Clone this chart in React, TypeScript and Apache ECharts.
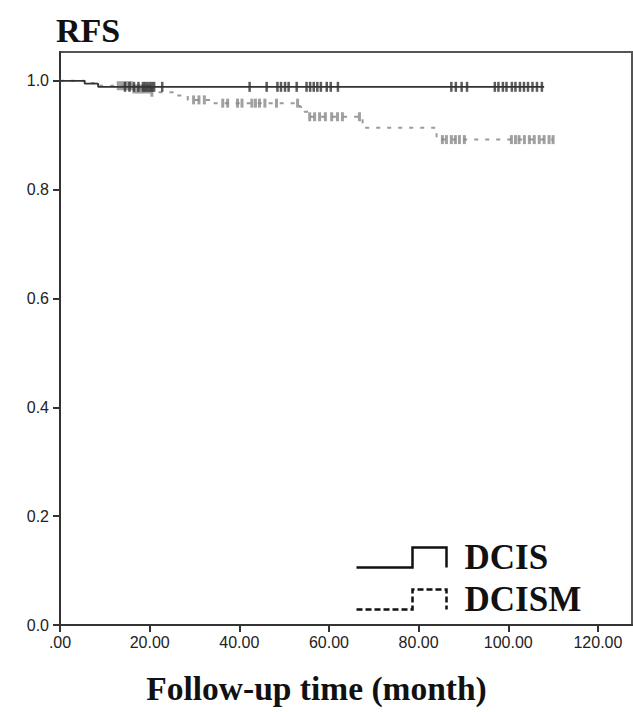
import React, { useEffect, useRef } from 'react';
import * as echarts from 'echarts';

const X_TICKS = [0, 20, 40, 60, 80, 100, 120];
const Y_TICKS = [0, 0.2, 0.4, 0.6, 0.8, 1.0];

const SERIES_NAMES = ['DCIS', 'DCISM'];

// Kaplan-Meier step points: time (months) and survival after the event
const DCIS_TIMES = [0, 5.5, 8.5, 108];
const DCIS_SURV = [1.0, 0.995, 0.989, 0.989];
const DCIS_CENSORED = [
  14.5, 15.5, 16.5, 17.5, 18.5, 19, 19.5, 20, 20.5, 21, 22.8,
  42.3, 46.1, 48.5, 49.3, 50.2, 51, 52.8,
  55, 55.8, 56.6, 57.4, 58.2, 59.5, 60.4, 62,
  87.3, 88.3, 89.6, 90.8,
  97, 97.8, 98.8, 99.6, 100.8, 101.6, 102.6, 103.5, 104.4, 105.4, 106.4, 107.5,
];

const DCISM_TIMES = [0, 5.5, 9, 16.5, 20.5, 25.5, 28.5, 34, 53.5, 54.5, 55.5, 67.5, 84, 110];
const DCISM_SURV = [1.0, 0.996, 0.991, 0.985, 0.979, 0.973, 0.965, 0.959, 0.952, 0.943, 0.934, 0.914, 0.892, 0.892];
const DCISM_CENSORED = [
  13, 13.6, 14.2, 14.8, 15.4, 15.9, 16.5, 17.1, 17.6, 18.2, 18.8, 19.4, 20, 20.5,
  29.8, 31, 32.2,
  36.3, 37.4, 39.6, 40.6, 42.8, 43.6, 44.5, 45.7, 48.3, 53,
  55.7, 56.8, 57.9, 59.2, 60.6, 61.9, 63, 66.8,
  85.3, 86.2, 87.3, 88.2, 89.1, 90.2,
  100.7, 101.6, 102.4, 103.6, 104.7, 105.8, 106.9, 108, 109.1, 110,
];

function survAt(times: number[], surv: number[], t: number): number {
  let s = surv[0];
  for (let i = 0; i < times.length; i++) {
    if (times[i] <= t) s = surv[i];
  }
  return s;
}

const stepIcon = 'path://M0,20 L56,20 L56,0 L90,0 L90,20';

export default function App() {
  const ref = useRef<HTMLDivElement>(null);
  useEffect(() => {
    if (!ref.current) return;
    const chart = echarts.init(ref.current, null, { renderer: 'svg' });
    const serif = 'Liberation Serif';
    const sans = 'Liberation Sans';
    chart.setOption({
      animation: false,
      backgroundColor: '#fff',
      title: [
        {
          text: 'RFS',
          left: 56,
          top: 13,
          padding: 0,
          textStyle: { fontFamily: serif, fontWeight: 'bold', fontSize: 34, color: '#111' },
        },
        {
          text: 'Follow-up time (month)',
          left: 'center',
          top: 671,
          padding: 0,
          textStyle: { fontFamily: serif, fontWeight: 'bold', fontSize: 33.5, color: '#111' },
        },
      ],
      grid: {
        left: 60,
        right: 1,
        top: 52,
        bottom: 87,
        show: true,
        borderColor: '#555',
        borderWidth: 2,
      },
      legend: {
        orient: 'vertical',
        left: 349,
        top: 535,
        itemWidth: 90,
        itemHeight: 20,
        itemGap: 7,
        selectedMode: false,
        textStyle: {
          fontFamily: serif,
          fontWeight: 'bold',
          fontSize: 35,
          color: '#111',
          padding: [0, 0, 0, 13],
        },
        data: [
          {
            name: SERIES_NAMES[0],
            icon: stepIcon,
            itemStyle: { color: 'none', borderColor: '#111', borderWidth: 2.5, borderType: 'solid' },
          },
          {
            name: SERIES_NAMES[1],
            icon: stepIcon,
            itemStyle: { color: 'none', borderColor: '#111', borderWidth: 2.5, borderType: [6, 3] },
          },
        ],
      },
      xAxis: {
        type: 'value',
        min: 0,
        max: 127.6,
        splitLine: { show: false },
        axisLine: { onZero: false, lineStyle: { color: '#333', width: 2 } },
        axisTick: { length: 7, customValues: X_TICKS, lineStyle: { color: '#333', width: 2 } },
        axisLabel: {
          customValues: X_TICKS,
          margin: 9,
          fontFamily: sans,
          fontSize: 16,
          color: '#222',
          formatter: (v: number) => (v === 0 ? '.00' : v.toFixed(2)),
        },
      },
      yAxis: {
        type: 'value',
        min: 0,
        max: 1.053,
        splitLine: { show: false },
        axisLine: { onZero: false, lineStyle: { color: '#333', width: 2 } },
        axisTick: { length: 7, customValues: Y_TICKS, lineStyle: { color: '#333', width: 2 } },
        axisLabel: {
          customValues: Y_TICKS,
          margin: 11,
          fontFamily: sans,
          fontSize: 16,
          color: '#222',
          formatter: (v: number) => v.toFixed(1),
        },
      },
      series: [
        {
          name: SERIES_NAMES[1],
          type: 'line',
          step: 'end',
          showSymbol: false,
          symbol: 'none',
          lineStyle: { color: '#9a9a9a', width: 2, type: [4, 7] },
          itemStyle: { color: '#9a9a9a' },
          data: DCISM_TIMES.map((t, i) => [t, DCISM_SURV[i]]),
          z: 2,
        },
        {
          name: 'DCISM censored',
          type: 'scatter',
          symbol: 'rect',
          symbolSize: [3, 9],
          itemStyle: { color: '#8a8a8a' },
          data: DCISM_CENSORED.map((t) => [t, survAt(DCISM_TIMES, DCISM_SURV, t)]),
          z: 3,
        },
        {
          name: SERIES_NAMES[0],
          type: 'line',
          step: 'end',
          showSymbol: false,
          symbol: 'none',
          lineStyle: { color: '#333', width: 1.8 },
          itemStyle: { color: '#333' },
          data: DCIS_TIMES.map((t, i) => [t, DCIS_SURV[i]]),
          z: 4,
        },
        {
          name: 'DCIS censored',
          type: 'scatter',
          symbol: 'rect',
          symbolSize: [2.5, 10],
          itemStyle: { color: '#333' },
          data: DCIS_CENSORED.map((t) => [t, survAt(DCIS_TIMES, DCIS_SURV, t)]),
          z: 5,
        },
      ],
    });
    return () => chart.dispose();
  }, []);
  return (
    <div
      ref={ref}
      style={{ position: 'fixed', left: 0, top: 0, width: 633, height: 712, background: '#fff' }}
    />
  );
}
